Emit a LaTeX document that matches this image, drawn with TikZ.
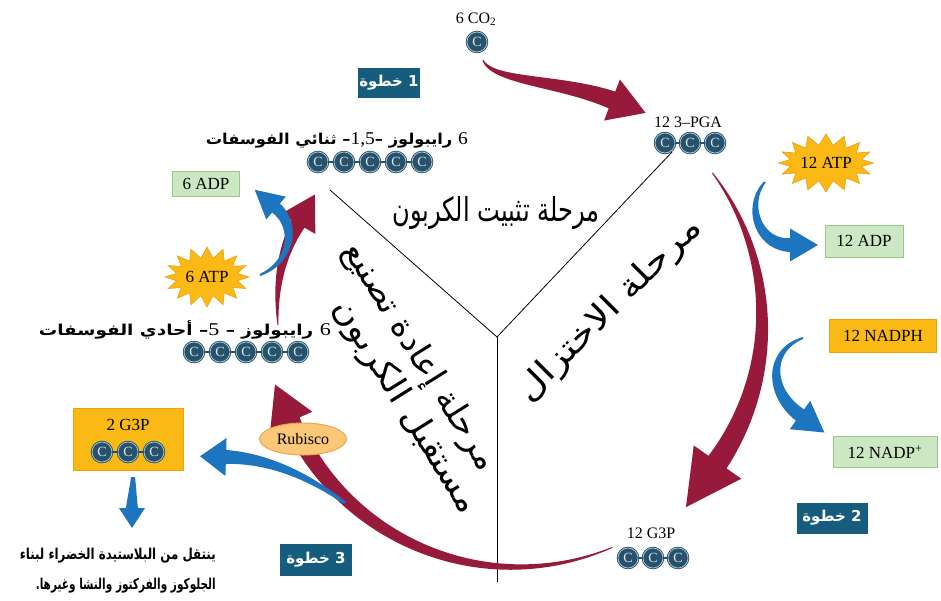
\documentclass[tikz,border=0pt]{standalone}
\usepackage{fontspec}
\usepackage{graphicx}
\setmainfont{Liberation Serif}
\newfontfamily\arabicfont[Script=Arabic]{DejaVu Sans}
\TeXXeTstate=1
\usetikzlibrary{shapes.symbols,shapes.geometric}
\definecolor{redarc}{RGB}{152,26,58}
\definecolor{bluearr}{RGB}{28,117,190}
\definecolor{stepbg}{RGB}{22,92,125}
\definecolor{greenbg}{RGB}{204,232,194}
\definecolor{greenln}{RGB}{150,200,140}
\definecolor{yellowbg}{RGB}{250,185,20}
\definecolor{yellowln}{RGB}{235,160,20}
\definecolor{atomdark}{RGB}{40,82,108}
\definecolor{atomring}{RGB}{175,205,220}
\definecolor{rubfill}{RGB}{250,200,120}
\definecolor{rubline}{RGB}{235,165,80}
\def\getxy#1/#2\endxy#3#4{\def#3{#1}\def#4{#2}}
% tapered arrow along a cubic Bezier: colour, P0, P1, P2, P3, w0/w1, headwidth/headlength
\newcommand\tarrow[7]{%
  \getxy#2\endxy\PAx\PAy
  \getxy#3\endxy\PBx\PBy
  \getxy#4\endxy\PCx\PCy
  \getxy#5\endxy\PDx\PDy
  \getxy#6\endxy\PWa\PWb
  \getxy#7\endxy\PHw\PHl
  \pgfmathsetmacro\PEa{atan2(\PDy-\PCy,\PDx-\PCx)}%
  \fill[#1, declare function={
      bx(\t)=(1-\t)^3*\PAx+3*(1-\t)^2*\t*\PBx+3*(1-\t)*\t^2*\PCx+\t^3*\PDx;
      by(\t)=(1-\t)^3*\PAy+3*(1-\t)^2*\t*\PBy+3*(1-\t)*\t^2*\PCy+\t^3*\PDy;
      dx(\t)=3*(1-\t)^2*(\PBx-\PAx)+6*(1-\t)*\t*(\PCx-\PBx)+3*\t^2*(\PDx-\PCx);
      dy(\t)=3*(1-\t)^2*(\PBy-\PAy)+6*(1-\t)*\t*(\PCy-\PBy)+3*\t^2*(\PDy-\PCy);
      ww(\t)=\PWa+(\PWb-\PWa)*\t;
      na(\t)=atan2(dy(\t),dx(\t));}]
    plot[variable=\t,domain=0:1,samples=40,smooth] ({bx(\t)-ww(\t)/2*sin(na(\t))},{by(\t)+ww(\t)/2*cos(na(\t))})
    -- ({\PDx-\PHw/2*sin(\PEa)},{\PDy+\PHw/2*cos(\PEa)})
    -- ({\PDx+\PHl*cos(\PEa)},{\PDy+\PHl*sin(\PEa)})
    -- ({\PDx+\PHw/2*sin(\PEa)},{\PDy-\PHw/2*cos(\PEa)})
    -- plot[variable=\t,domain=1:0,samples=40,smooth] ({bx(\t)+ww(\t)/2*sin(na(\t))},{by(\t)-ww(\t)/2*cos(na(\t))})
    -- cycle;}
% tapered arrow along the main circle: colour, a1, a2, w0, w1, headwidth, headlength
\newcommand\carrow[7]{%
  \pgfmathsetmacro\CBx{516+246*cos(#3)}%
  \pgfmathsetmacro\CBy{321+246*sin(#3)}%
  \fill[#1, declare function={cw(\t)=#4+(#5-#4)*(\t-(#2))/((#3)-(#2));}]
    plot[variable=\t,domain=#2:#3,samples=60,smooth] ({516+(246-cw(\t)/2)*cos(\t)},{321+(246-cw(\t)/2)*sin(\t)})
    -- ({\CBx-#6/2*cos(#3)},{\CBy-#6/2*sin(#3)})
    -- ({\CBx-#7*sin(#3)},{\CBy+#7*cos(#3)})
    -- ({\CBx+#6/2*cos(#3)},{\CBy+#6/2*sin(#3)})
    -- plot[variable=\t,domain=#3:#2,samples=60,smooth] ({516+(246+cw(\t)/2)*cos(\t)},{321+(246+cw(\t)/2)*sin(\t)})
    -- cycle;}
% chain of carbon atoms: name, x0, y, n, spacing
\newcommand\chain[5]{%
  \foreach \i in {1,...,#4} \node[atom] (#1-\i) at ({#2+(\i-1)*#5},#3) {C};
  \ifnum#4>1
  \foreach \i in {2,...,#4} {\pgfmathtruncatemacro\j{\i-1}\draw[bond] (#1-\j) -- (#1-\i);}
  \fi}
\newcommand\numf[1]{{\rmfamily\mdseries\fontsize{18}{18}\selectfont #1}}
\begin{document}
\begin{tikzpicture}[x=1pt,y=-1pt,
  atom/.style={circle, fill=atomdark, draw=atomdark, double=atomring, double distance=0.7pt,
    line width=0.9pt, minimum size=20pt, inner sep=0pt, text=atomring!50!white,
    font=\rmfamily\fontsize{14}{14}\selectfont},
  bond/.style={atomdark, line width=1.4pt},
  ythin/.style={black, line width=0.8pt},
  lbl/.style={inner sep=0pt, font=\fontsize{16}{16}\selectfont},
  gbox/.style={fill=greenbg, draw=greenln, line width=1pt, inner sep=0pt, font=\fontsize{17}{17}\selectfont},
  ybox/.style={fill=yellowbg, draw=yellowln, line width=1pt, inner sep=0pt, font=\fontsize{17}{17}\selectfont},
  stepbox/.style={fill=stepbg, text=white, inner sep=0pt, font=\arabicfont\bfseries\fontsize{15}{15}\selectfont},
  burst/.style={starburst, random starburst=0, starburst points=16, starburst point height=11pt,
    fill=yellowbg, draw=yellowln, line width=0.6pt, inner sep=0pt, font=\fontsize{17}{17}\selectfont},
  phase/.style={inner sep=0pt, font=\arabicfont\fontsize{33}{33}\selectfont},
  artxt/.style={inner sep=0pt, font=\arabicfont\bfseries\fontsize{15}{15}\selectfont}]
\useasboundingbox (0,0) rectangle (941,600);
\fill[white] (0,0) rectangle (941,600);
% Y separating the three phases
\coordinate (yo) at (497,337);
\coordinate (ya) at (330,190);
\coordinate (yb) at (672,152);
\coordinate (yd) at (497,582);
\draw[ythin] (ya) -- (yo) -- (yb);
\draw[ythin] (yo) -- (yd);
% phase labels
\node[phase] (phfix) at (496,213) {\resizebox{207pt}{\height}{\beginR مرحلة تثبيت الكربون\endR}};
\node[phase, rotate=45] (phred) at (610,310) {\resizebox{246pt}{\height}{\beginR مرحلة الاختزال\endR}};
\node[phase, rotate=-58] (phreg1) at (419,357) {\resizebox{262pt}{\height}{\beginR مرحلة إعادة تصنيع\endR}};
\node[phase, rotate=-58] (phreg2) at (405,407) {\resizebox{245pt}{\height}{\beginR مستقبل الكربون\endR}};
% red cycle arrows
\tarrow{redarc}{483/60}{492/82}{560/80}{612/100}{1/18}{44/36}
\carrow{redarc}{-37}{35}{1}{22}{58}{55}
\carrow{redarc}{67}{156}{1}{18}{46}{40}
\tarrow{redarc}{278/325}{275/285}{282/252}{298/224}{1/15}{40/34}
% blue arrows
\tarrow{bluearr}{260/275}{292/262}{297/226}{276/208}{2/12}{30/28}
\tarrow{bluearr}{765/182}{745/205}{758/245}{790/245}{2/14}{33/28}
\tarrow{bluearr}{803/338}{768/350}{768/392}{800/415}{2/14}{35/30}
\tarrow{bluearr}{345/503}{300/470}{260/458}{226/457}{3/14}{38/26}
\tarrow{bluearr}{133/477}{133/488}{132/498}{132/508}{4/12}{26/20}
% step boxes
\node[stepbox, minimum width=62pt, minimum height=30pt] (st1) at (389,83) {\beginR 1 خطوة\endR};
\node[stepbox, minimum width=71pt, minimum height=31pt] (st2) at (832,518) {\beginR 2 خطوة\endR};
\node[stepbox, minimum width=72pt, minimum height=32pt] (st3) at (316,560) {\beginR 3 خطوة\endR};
% ATP / ADP / NADPH
\node[burst, minimum width=84pt, minimum height=60pt] (atp6) at (207,277) {6 ATP};
\node[burst, minimum width=92pt, minimum height=58pt] (atp12) at (826,163) {12 ATP};
\node[gbox, minimum width=67pt, minimum height=25pt] (adp6) at (206,184) {6 ADP};
\node[gbox, minimum width=78pt, minimum height=32pt] (adp12) at (864,241) {12 ADP};
\node[ybox, minimum width=107pt, minimum height=33pt] (nadph) at (883,336) {12 NADPH};
\node[gbox, minimum width=104pt, minimum height=31pt] (nadp) at (885,452) {12 NADP\textsuperscript{+}};
\node[ybox, minimum width=110pt, minimum height=62pt] (g3pbox) at (128,439) {};
% Rubisco
\node[ellipse, fill=rubfill, draw=rubline, line width=1pt, minimum width=87pt, minimum height=32pt,
  inner sep=0pt, font=\fontsize{16}{16}\selectfont] (rub) at (303,439) {Rubisco};
% molecules
\node[lbl] (co2l) at (476,19) {6 CO\textsubscript{2}};
\chain{co2}{477}{42}{1}{25}
\node[lbl] (pgal) at (688,122) {12 3–PGA};
\chain{pga}{665}{143}{3}{25}
\node[lbl] (g3pl) at (651,533) {12 G3P};
\chain{g3p}{628}{558}{3}{25}
\node[lbl, font=\fontsize{17}{17}\selectfont] (g3p2l) at (128,425) {2 G3P};
\chain{gtwo}{102}{452}{3}{26}
\node[artxt, anchor=east] (rubpl) at (468,140) {\resizebox{262pt}{\height}{\beginR\numf{6} رايبولوز –\beginL\numf{1,5}\endL– ثنائي الفوسفات\endR}};
\chain{rubp}{318}{162}{5}{26}
\node[artxt, anchor=east] (rupl) at (331,330) {\resizebox{292pt}{\height}{\beginR\numf{6} رايبولوز – \numf{5}– أحادي الفوسفات\endR}};
\chain{rup}{194}{352}{5}{26}
% export text
\node[artxt, anchor=east] (exp1) at (216,556) {\resizebox{196pt}{\height}{\beginR ينتقل من البلاستيدة الخضراء لبناء\endR}};
\node[artxt, anchor=east] (exp2) at (216,586) {\resizebox{180pt}{\height}{\beginR الجلوكوز والفركتوز والنشا وغيرها.\endR}};
\end{tikzpicture}
\end{document}
